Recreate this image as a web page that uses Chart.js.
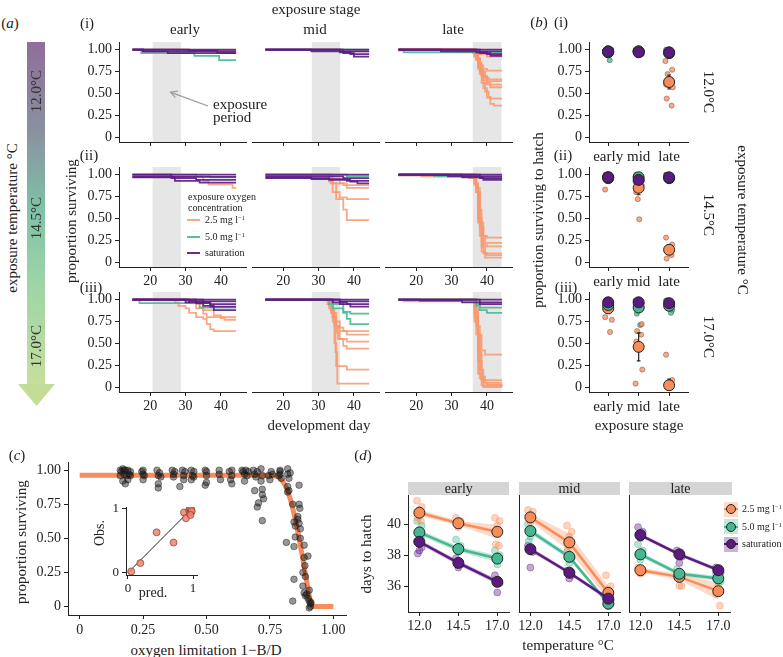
<!DOCTYPE html>
<html lang="en">
<head>
<meta charset="UTF-8">
<title>Embryo survival and hatching under low oxygen</title>
<script src="https://cdn.jsdelivr.net/npm/chart.js"></script>
<style>
  * { margin: 0; padding: 0; box-sizing: border-box; }
  body { width: 783px; height: 657px; position: relative; overflow: hidden; background: #fff;
         font-family: 'Liberation Serif', 'Times New Roman', serif; color: #222; }
  .box { position: absolute; }
  .box canvas { display: block; }
  .t { position: absolute; white-space: nowrap; line-height: 1; }
  .strip { position: absolute; background: #d5d5d5; font-size: 14px; text-align: center; line-height: 14px; }
  .bar { position: absolute; left: 27px; top: 42px; width: 18px; height: 343px;
         background: linear-gradient(#8f6e9b 0%, #8a8fa0 25%, #7fc0a6 48%, #9ad3a8 68%, #c6df9c 100%); }
  .head { position: absolute; left: 18px; top: 384px; width: 37px; height: 22px; background: #c3dd96;
          clip-path: polygon(0 0, 100% 0, 50% 100%); }
  .key { position: absolute; }
  sup { font-size: 0.65em; vertical-align: 0.45em; line-height: 0; }
</style>
</head>
<body>
<div class="bar"></div>
<div class="head"></div>

<script>
  const FONT = 'Liberation Serif';
  const INK = '#222';

  // ---- tick labels ----
  const stages = ['early', 'mid', 'late'];
  const propTicks = [0, 0.25, 0.5, 0.75, 1];
  const propLabels = ['0', '0.25', '0.50', '0.75', '1.00'];
  const dayTicks = [20, 30, 40];
  const dayLabels = ['20', '30', '40'];
  const tempTicks = [12, 14.5, 17];
  const tempLabels = ['12.0', '14.5', '17.0'];
  const hatchTicks = [36, 38, 40];
  const hatchLabels = ['36', '38', '40'];

  // exposure windows (development day) for early / mid / late
  const exposureDays = [[20.7, 28.7], [28.1, 36.1], [36.0, 44.1]];

  // ---- (a) survival curves: each line is day, proportion, day, proportion ... ----
  // per temperature: [early lines, mid lines, late lines]
  const p12 = [
    [[15,1, 44.3,1], [15,1, 18,0.98, 44.3,0.98], [15,1, 18,0.98, 25,0.96, 44.3,0.96], [15,1, 31,0.99, 39,0.96, 44.3,0.96]],
    [[15,1, 44.3,1], [15,1, 28,0.98, 44.3,0.98], [15,1, 36,0.97, 39,0.95, 44.3,0.95], [15,1, 37,0.96, 40,0.92, 44.3,0.92]],
    [[15,1, 44.3,1], [15,1, 27,0.98, 44.3,0.98], [15,1, 37,0.97, 40,0.95, 44.3,0.95], [15,1, 38,0.96, 41,0.93, 44.3,0.93]]
  ];
  const g12 = [
    [[15,1, 17.5,0.96, 32.5,0.93, 39.5,0.88, 44.3,0.88]],
    [[15,1, 44.3,1]],
    [[15,1, 16.5,0.97, 37,0.96, 44.3,0.96]]
  ];
  const o12 = [
    [[15,1, 30,0.99, 44.3,0.99]],
    [[15,1, 36,0.98, 44.3,0.98]],
    [
      [15,1, 30.5,0.98, 37,0.95, 40,0.92, 44.3,0.92],
      [15,1, 36,0.97, 37,0.9, 38,0.82, 39,0.78, 40,0.76, 44.3,0.76],
      [15,1, 36.5,0.95, 37.5,0.85, 38.5,0.75, 39.5,0.68, 40.5,0.66, 44.3,0.66],
      [15,1, 36,0.96, 37,0.88, 38,0.76, 39,0.68, 40,0.64, 44.3,0.64],
      [15,0.99, 36.5,0.93, 37.5,0.8, 38.5,0.7, 40,0.62, 41,0.6, 44.3,0.6],
      [15,1, 37,0.9, 38,0.75, 39,0.65, 40,0.6, 41,0.57, 44.3,0.57],
      [15,1, 36.5,0.92, 37.5,0.78, 38.5,0.62, 39.5,0.52, 40.5,0.46, 41,0.44, 44.3,0.44],
      [15,1, 37,0.9, 38,0.72, 39,0.56, 40,0.45, 41,0.38, 42,0.36, 44.3,0.36]
    ]
  ];
  const p145 = [
    [[15,1, 44.3,1], [15,0.975, 44.3,0.975], [15,1, 26,0.96, 33,0.94, 44.3,0.94], [15,0.97, 27,0.93, 34,0.91, 44.3,0.91]],
    [[15,1, 44.3,1], [15,0.98, 37,0.96, 44.3,0.96], [15,0.97, 28,0.95, 38,0.93, 44.3,0.93], [15,0.96, 33,0.94, 39,0.92, 41,0.9, 44.3,0.9]],
    [[15,1, 44.3,1], [15,1, 29,0.98, 44.3,0.98], [15,1, 38,0.96, 44.3,0.96], [15,1, 33,0.97, 39,0.94, 44.3,0.94]]
  ];
  const g145 = [
    [[15,1, 33,0.98, 37,0.97, 44.3,0.97]],
    [[15,1, 38,0.98, 44.3,0.98]],
    [[15,1, 25,0.98, 38,0.96, 44.3,0.96]]
  ];
  const o145 = [
    [[15,0.98, 35,0.93, 36.5,0.89, 43.3,0.85, 44.3,0.85]],
    [
      [15,1, 33,0.95, 34,0.9, 37,0.88, 44.3,0.88],
      [15,1, 34,0.95, 36,0.9, 38,0.85, 44.3,0.85],
      [15,1, 33,0.92, 34,0.8, 36,0.74, 38,0.72, 44.3,0.72],
      [15,1, 33.5,0.9, 35,0.72, 37,0.6, 38,0.48, 44.3,0.48]
    ],
    [
      [15,1, 21.5,0.98, 35,0.96, 37,0.8, 38,0.45, 39,0.3, 40,0.28, 44.3,0.28],
      [15,1, 36.5,0.9, 37.5,0.6, 38.5,0.3, 39.5,0.22, 44.3,0.22],
      [15,0.99, 37,0.85, 38,0.4, 39,0.2, 40,0.18, 44.3,0.18],
      [15,1, 36.5,0.88, 37.5,0.5, 38.5,0.18, 39.5,0.1, 44.3,0.1],
      [15,1, 37,0.8, 38,0.3, 39,0.1, 40,0.08, 44.3,0.08],
      [15,1, 36.5,0.9, 37.5,0.45, 38.5,0.12, 39.5,0.05, 44.3,0.05]
    ]
  ];
  const p170 = [
    [[15,1, 44.3,1], [15,1, 31,0.98, 44.3,0.98], [15,1, 33,0.96, 37,0.95, 44.3,0.95], [15,1, 30,0.97, 37,0.92, 44.3,0.92], [15,1, 35,0.93, 38,0.88, 44.3,0.88]],
    [[15,1, 44.3,1], [15,1, 36,0.98, 44.3,0.98], [15,1, 34,0.97, 38,0.95, 44.3,0.95], [15,1, 36,0.95, 39,0.92, 44.3,0.92]],
    [[15,1, 44.3,1], [15,1, 21,0.99, 33,0.97, 44.3,0.97], [15,1, 38,0.95, 44.3,0.95]]
  ];
  const g170 = [
    [[15,1, 17,0.96, 34,0.91, 44.3,0.91]],
    [[15,1, 33,0.95, 34,0.9, 37,0.86, 39,0.84, 44.3,0.84], [15,1, 34,0.95, 37,0.85, 38,0.78, 39,0.72, 44.3,0.72]],
    [[15,1, 37,0.95, 38,0.91, 44.3,0.91], [15,1, 37,0.93, 38,0.88, 40,0.85, 44.3,0.85]]
  ];
  const o170 = [
    [
      [15,1, 27,0.97, 28,0.93, 30,0.9, 31,0.85, 33,0.8, 35,0.78, 36,0.72, 37,0.66, 38,0.64, 44.3,0.64],
      [15,1, 31,0.96, 33,0.9, 35,0.84, 36,0.8, 44.3,0.8],
      [15,1, 33,0.95, 35,0.88, 38,0.82, 40,0.79, 41,0.77, 44.3,0.77]
    ],
    [
      [15,1, 32.5,0.95, 34,0.85, 35,0.75, 36,0.68, 37,0.64, 44.3,0.64],
      [15,1, 33,0.93, 34,0.8, 35,0.7, 36,0.64, 38,0.6, 44.3,0.6],
      [15,1, 33,0.9, 34,0.75, 35,0.62, 36,0.55, 38,0.52, 44.3,0.52],
      [15,1, 33.5,0.88, 34.5,0.7, 35.5,0.55, 37,0.47, 38,0.44, 44.3,0.44],
      [15,1, 33.5,0.85, 34.5,0.5, 35,0.24, 38,0.2, 44.3,0.2],
      [15,1, 34,0.8, 34.8,0.4, 35.3,0.04, 44.3,0.04]
    ],
    [
      [15,1, 16.5,0.98, 36.5,0.9, 37.5,0.6, 38.5,0.42, 39.5,0.37, 44.3,0.37],
      [15,1, 36.5,0.85, 37.5,0.4, 38.5,0.12, 39.5,0.08, 44.3,0.08],
      [15,1, 36.5,0.8, 37.5,0.3, 38.5,0.08, 39.5,0.05, 44.3,0.05],
      [15,1, 37,0.7, 38,0.2, 39,0.05, 40,0.03, 44.3,0.03],
      [15,1, 36.5,0.75, 37.5,0.15, 38.5,0.02, 44.3,0.01],
      [15,1, 37,0.6, 38,0.1, 39,0.0, 44.3,0.0]
    ]
  ];

  // ---- (b) proportion surviving to hatch; rows = 12.0, 14.5, 17.0 °C, x = stage (1..3) ----
  const bMeanO = [[0.98, 0.98, 0.63], [0.96, 0.85, 0.14], [0.90, 0.46, 0.02]];
  const bErrO  = [[0.02, 0.02, 0.08], [0.03, 0.08, 0.05], [0.05, 0.16, 0.07]];
  const bMeanG = [[0.97, 0.98, 0.96], [0.97, 0.97, 0.96], [0.94, 0.91, 0.93]];
  const bErrG  = [[0.02, 0.01, 0.02], [0.02, 0.02, 0.02], [0.03, 0.05, 0.03]];
  const bMeanP = [[0.98, 0.97, 0.97], [0.97, 0.94, 0.97], [0.97, 0.97, 0.96]];
  const bRawO = [
    [[0.9,0.99],[1.1,0.98],[1.0,1.0],[0.95,0.97],[1.9,1.0],[2.1,0.98],[2.0,0.97],[2.88,0.87],[3.1,0.77],[2.95,0.72],[3.05,0.66],[2.9,0.6],[3.12,0.57],[2.92,0.44],[3.08,0.36]],
    [[0.92,0.98],[1.08,0.96],[0.9,0.83],[1.9,0.92],[2.1,0.88],[1.92,0.8],[1.97,0.72],[2.02,0.49],[2.9,0.28],[3.1,0.2],[3.0,0.17],[2.95,0.12],[3.08,0.08],[2.92,0.04]],
    [[0.93,0.95],[1.08,0.92],[0.9,0.8],[1.12,0.77],[1.06,0.63],[2.1,0.72],[1.95,0.64],[2.08,0.6],[1.92,0.52],[2.12,0.2],[1.9,0.04],[2.9,0.37],[3.1,0.08],[3.02,0.05],[2.95,0.0],[3.06,0.02]]
  ];
  const bRawG = [
    [[0.92,1.0],[1.08,0.97],[1.05,0.88],[0.98,0.99],[1.9,0.99],[2.1,0.98],[2.03,1.0],[2.9,1.0],[3.1,0.97],[3.02,0.93],[2.96,0.99]],
    [[0.9,0.99],[1.1,0.97],[1.0,0.94],[1.92,1.0],[2.08,0.97],[2.0,0.95],[2.92,0.99],[3.1,0.96],[3.03,0.93]],
    [[0.92,0.98],[1.08,0.93],[1.0,0.9],[1.9,0.95],[2.1,0.91],[1.94,0.84],[2.05,0.71],[2.9,0.99],[3.1,0.88],[3.06,0.85],[2.97,0.94]]
  ];
  const bRawP = [
    [[0.9,0.98],[1.1,1.0],[1.03,0.96],[1.92,0.99],[2.1,0.95],[2.0,1.0],[2.92,0.99],[3.08,0.96],[3.0,1.0]],
    [[0.92,1.0],[1.08,0.96],[1.0,0.98],[1.9,0.98],[2.1,0.93],[2.0,0.9],[2.9,1.0],[3.08,0.97],[3.0,0.95]],
    [[0.92,0.99],[1.08,0.96],[1.0,1.0],[1.9,0.99],[2.1,0.96],[2.0,1.0],[2.92,0.99],[3.08,0.95],[3.0,0.98]]
  ];

  // ---- (c) survival vs oxygen limitation ----
  const cPts = [
    [0.160,1.00],[0.165,0.99],[0.170,1.01],[0.175,0.97],[0.180,1.00],[0.185,0.96],[0.190,1.00],[0.200,0.99],[0.170,0.92],[0.180,0.90],[0.190,0.93],[0.200,0.96],[0.160,0.96],[0.175,1.00],[0.195,0.97],
    [0.245,0.99],[0.250,1.00],[0.250,0.97],[0.250,0.93],[0.255,0.96],
    [0.305,1.00],[0.310,0.96],[0.310,0.90],[0.310,0.87],[0.315,0.98],[0.320,0.95],
    [0.365,1.00],[0.370,0.97],[0.370,0.95],[0.375,0.99],
    [0.395,0.88],[0.405,1.00],[0.410,0.96],[0.410,0.93],[0.415,0.99],
    [0.440,1.00],[0.445,0.96],[0.450,0.99],[0.440,0.93],[0.450,0.95],
    [0.495,1.00],[0.500,0.99],[0.500,0.96],[0.500,0.91],[0.495,0.89],
    [0.550,1.00],[0.550,0.97],[0.555,0.93],
    [0.590,0.99],[0.600,1.00],[0.600,0.96],[0.595,0.93],[0.600,0.90],
    [0.640,1.00],[0.645,0.99],[0.650,0.97],[0.655,1.00],[0.660,0.96],[0.650,0.92],[0.665,0.99],
    [0.685,1.00],[0.690,0.97],[0.690,0.85],[0.695,0.95],[0.700,0.73],[0.700,0.99],[0.705,0.76],
    [0.715,1.01],[0.720,0.96],[0.720,0.82],[0.725,0.79],[0.720,0.63],[0.715,0.92],[0.720,0.86],
    [0.745,0.96],[0.750,0.93],[0.760,0.97],[0.755,0.99],
    [0.785,0.96],[0.790,1.00],[0.790,0.99],[0.790,0.97],[0.795,0.94],
    [0.815,0.47],[0.820,1.01],[0.820,0.97],[0.825,0.94],[0.820,0.84],[0.825,0.85],[0.820,0.88],[0.830,0.98],
    [0.840,0.75],[0.845,0.62],[0.850,0.51],[0.845,0.20],[0.840,0.04],[0.850,0.59],[0.845,0.44],
    [0.860,0.64],[0.865,0.89],[0.865,0.75],[0.865,0.61],[0.870,0.57],[0.860,0.66],[0.870,0.50],[0.868,0.72],
    [0.880,0.25],[0.885,0.45],[0.885,0.36],[0.890,0.22],[0.885,0.10],[0.890,0.08],[0.880,0.15],[0.888,0.30],
    [0.900,0.37],[0.905,0.12],[0.905,0.04],[0.910,0.02],[0.900,0.06],[0.910,0.00],[0.905,-0.01],[0.912,0.03],[0.895,0.09]
  ];
  const cCurve = [[0,0.963],[0.74,0.963],[0.77,0.958],[0.79,0.94],[0.81,0.89],[0.83,0.79],[0.85,0.64],[0.87,0.45],[0.89,0.24],[0.905,0.08],[0.915,0.015],[0.925,0],[1.0,0]];
  const insetPts = [[0.05,0.02],[0.19,0.15],[0.44,0.63],[0.70,0.47],[0.86,0.94],[0.89,0.85],[0.94,0.97],[0.95,1.0],[0.96,0.94],[0.97,0.99],[0.98,0.96],[0.96,0.90]];
  const insetFit = [[0,0],[0.98,1]];

  // ---- (d) days to hatch; facets = early, mid, late; x = temperature ----
  const dTemps = [12, 14.5, 17];
  const dMeanO = [[40.73, 40.05, 39.50], [40.43, 38.82, 35.57], [37.03, 36.60, 35.68]];
  const dCiO   = [[0.20, 0.15, 0.45], [0.25, 0.55, 0.45], [0.15, 0.20, 0.55]];
  const dMeanG = [[39.46, 38.39, 37.78], [39.55, 37.89, 34.88], [38.05, 36.80, 36.50]];
  const dCiG   = [[0.18, 0.18, 0.22], [0.20, 0.15, 0.15], [0.15, 0.15, 0.15]];
  const dMeanP = [[38.86, 37.50, 36.28], [38.38, 36.87, 35.20], [39.29, 38.05, 37.03]];
  const dCiP   = [[0.15, 0.15, 0.15], [0.15, 0.12, 0.12], [0.12, 0.12, 0.12]];
  const dRawO = [
    [[11.85,41.5],[12.15,41.1],[12.0,40.9],[11.9,40.4],[12.1,40.2],[14.35,40.4],[14.65,40.2],[14.5,39.8],[16.85,40.4],[17.15,40.2],[17.0,39.9],[16.9,38.7],[17.1,38.6]],
    [[11.85,40.9],[12.15,40.8],[12.0,40.1],[14.35,39.9],[14.65,39.5],[14.5,39.2],[14.4,38.4],[16.85,36.7],[17.15,36.0],[17.0,35.8]],
    [[11.85,37.2],[12.15,36.9],[12.0,36.8],[14.35,36.9],[14.65,36.0],[14.5,36.05],[17.0,36.0],[16.85,35.5],[17.1,34.75]]
  ];
  const dRawG = [
    [[11.85,40.2],[12.15,39.9],[12.0,39.6],[12.1,39.2],[14.35,39.0],[14.65,38.6],[14.5,38.2],[16.85,38.3],[17.15,38.0],[17.0,37.4]],
    [[11.85,40.0],[12.15,39.6],[12.0,39.2],[11.9,38.9],[14.35,38.2],[14.65,37.8],[14.5,37.5],[16.85,35.2],[17.15,34.9],[17.0,34.7]],
    [[11.85,38.7],[12.15,38.3],[12.0,37.7],[14.35,37.1],[14.65,36.7],[16.85,36.8],[17.15,36.3]]
  ];
  const dRawP = [
    [[11.85,38.9],[12.15,38.5],[12.0,38.3],[11.9,38.1],[14.35,37.8],[14.65,37.4],[14.5,37.2],[16.85,36.7],[17.15,36.2],[17.0,35.6]],
    [[11.85,38.6],[12.15,38.2],[12.0,37.2],[14.35,37.0],[14.65,36.7],[14.5,36.5],[16.85,35.3],[17.15,35.1]],
    [[11.85,39.8],[12.15,39.5],[12.0,39.1],[14.35,38.3],[14.65,37.9],[14.5,37.5],[16.85,37.2],[17.15,36.9]]
  ];

  // ---- colours ----
  const COL_O = '#f88d58', COL_G = '#45b791', COL_P = '#5a1a80';
  const LINE_O = 'rgba(249,152,110,0.85)', LINE_G = 'rgba(80,188,150,0.95)', LINE_P = 'rgba(92,28,132,0.92)';
  const BAND_O = 'rgba(248,141,88,0.32)', BAND_G = 'rgba(69,183,145,0.32)', BAND_P = 'rgba(90,26,128,0.32)';
  const RAW_O = 'rgba(248,141,88,0.75)', RAW_G = 'rgba(69,183,145,0.75)', RAW_P = 'rgba(90,26,128,0.75)';
  const FAINT_O = 'rgba(248,141,88,0.38)', FAINT_G = 'rgba(69,183,145,0.38)', FAINT_P = 'rgba(90,26,128,0.38)';

  // ---- helpers ----
  const pts = a => a.map(([x, y]) => ({ x, y }));
  const flatPts = f => {
    const out = [];
    for (let i = 0; i < f.length; i += 2) out.push({ x: f[i], y: f[i + 1] });
    return out;
  };

  function txt(html, x, y, size, opt = {}) {
    const d = document.createElement('div');
    d.className = 't';
    d.innerHTML = html;
    d.style.left = x + 'px';
    d.style.top = y + 'px';
    d.style.fontSize = size + 'px';
    let tf = opt.left ? 'translate(0,-50%)' : 'translate(-50%,-50%)';
    if (opt.rot) tf += ' rotate(' + opt.rot + 'deg)';
    d.style.transform = tf;
    if (opt.color) d.style.color = opt.color;
    document.body.appendChild(d);
  }

  function axisCfg({ min, max, ticks = [], labels = null, size, fs = 14, show = true, marks = true, pad = 3 }) {
    return {
      type: 'linear', min, max, display: show,
      afterBuildTicks: s => { s.ticks = ticks.map(v => ({ value: v })); },
      afterFit: s => { if (s.isHorizontal()) s.height = size; else s.width = size; },
      ticks: {
        display: marks, autoSkip: false, maxRotation: 0, padding: pad, color: INK,
        font: { family: FONT, size: fs },
        callback: (v, i) => labels ? labels[i] : ''
      },
      grid: { drawOnChartArea: false, drawTicks: marks, tickLength: 4, color: INK, lineWidth: 1 },
      border: { display: true, color: INK, width: 1 }
    };
  }

  // area = plotting box on the page, pad = room around it for axes
  function mount(area, pad, yShown, type, datasets, x, y, plugins = []) {
    const div = document.createElement('div');
    div.className = 'box';
    div.style.left = (area.x - pad.l) + 'px';
    div.style.top = (area.y - pad.t) + 'px';
    const cv = document.createElement('canvas');
    cv.width = Math.round(area.w + pad.l + pad.r);
    cv.height = Math.round(area.h + pad.t + pad.b);
    div.appendChild(cv);
    document.body.appendChild(div);
    return new Chart(cv, {
      type,
      data: { datasets },
      options: {
        responsive: false, animation: false, devicePixelRatio: 1, events: [],
        layout: { padding: { left: yShown ? 0 : pad.l, top: pad.t, right: pad.r, bottom: 0 } },
        plugins: { legend: { display: false }, tooltip: { enabled: false } },
        scales: { x, y }
      },
      plugins
    });
  }

  // grey exposure window behind the curves
  function shade(period) {
    return {
      id: 'shade',
      beforeDraw(chart) {
        const { ctx, chartArea: a, scales: { x } } = chart;
        const x0 = x.getPixelForValue(period[0]), x1 = x.getPixelForValue(period[1]);
        ctx.save();
        ctx.fillStyle = '#e6e6e6';
        ctx.fillRect(x0, a.top, x1 - x0, a.bottom - a.top);
        ctx.restore();
      }
    };
  }

  function errData(means, errs) {
    const out = [];
    means.forEach((m, i) => {
      const x = i + 1, lo = Math.max(m - errs[i], 0), hi = m + errs[i];
      out.push({ x, y: lo }, { x, y: hi }, { x, y: null },
               { x: x - 0.06, y: lo }, { x: x + 0.06, y: lo }, { x, y: null },
               { x: x - 0.06, y: hi }, { x: x + 0.06, y: hi }, { x, y: null });
    });
    return out;
  }

  // ---- (a) survival curves ----
  const survRows = [[p12, g12, o12], [p145, g145, o145], [p170, g170, o170]];
  const aTop = [42, 167, 292];
  const aLeft = [118.5, 252, 385];
  survRows.forEach(([p, g, o], r) => {
    for (let c = 0; c < 3; c++) {
      const yShown = c === 0;
      const sets = [];
      [[p[c], LINE_P], [g[c], LINE_G], [o[c], LINE_O]].forEach(([lines, col]) =>
        lines.forEach(f => sets.push({
          data: flatPts(f), borderColor: col, borderWidth: 1.8, pointRadius: 0, stepped: true, fill: false
        })));
      mount({ x: aLeft[c], y: aTop[r], w: 126.5, h: 100 }, { l: yShown ? 44 : 10, t: 14, r: 14, b: 24 }, yShown, 'line', sets,
        axisCfg({ min: 11.2, max: 47.1, ticks: dayTicks, labels: r === 0 ? null : dayLabels, size: 24, pad: 2 }),
        axisCfg({ min: -0.057, max: 1.088, ticks: propTicks, labels: propLabels, size: yShown ? 44 : 0, show: yShown }),
        [shade(exposureDays[c])]);
    }
  });

  // ---- (b) survival to hatch ----
  for (let r = 0; r < 3; r++) {
    const sets = [];
    [[bRawO, RAW_O], [bRawG, RAW_G], [bRawP, RAW_P]].forEach(([raw, col]) => sets.push({
      type: 'scatter', data: pts(raw[r]), backgroundColor: col, borderColor: 'rgba(70,45,45,0.55)',
      borderWidth: 0.7, pointRadius: 2.6, order: 5
    }));
    [[bMeanO, bErrO], [bMeanG, bErrG]].forEach(([m, e]) => sets.push({
      type: 'line', data: errData(m[r], e[r]), borderColor: INK, borderWidth: 1.2, pointRadius: 0, spanGaps: false, order: 4
    }));
    [[bMeanO, COL_O, 3], [bMeanG, COL_G, 2], [bMeanP, COL_P, 1]].forEach(([m, col, ord]) => sets.push({
      type: 'scatter', data: m[r].map((v, i) => ({ x: i + 1, y: v })), backgroundColor: col,
      borderColor: INK, borderWidth: 1, pointRadius: 5.5, order: ord
    }));
    mount({ x: 589, y: aTop[r], w: 99, h: 100 }, { l: 48, t: 14, r: 14, b: 24 }, true, 'scatter', sets,
      axisCfg({ min: 0.37, max: 3.62, ticks: [1, 2, 3], labels: stages, size: 24, fs: 15, pad: 2 }),
      axisCfg({ min: -0.057, max: 1.088, ticks: propTicks, labels: propLabels, size: 48 }));
  }

  // ---- (c) survival vs oxygen limitation ----
  mount({ x: 68, y: 461.5, w: 278, h: 153 }, { l: 50, t: 14, r: 20, b: 26 }, true, 'line', [
    { type: 'scatter', data: pts(cPts), backgroundColor: 'rgba(25,25,25,0.45)', borderColor: 'rgba(25,25,25,0.45)',
      pointRadius: 3.3, order: 1 },
    { data: pts(cCurve), borderColor: 'rgba(247,128,78,0.9)', borderWidth: 5, pointRadius: 0,
      cubicInterpolationMode: 'monotone', order: 2 }
  ],
    axisCfg({ min: -0.046, max: 1.05, ticks: propTicks, labels: propLabels, size: 26 }),
    axisCfg({ min: -0.062, max: 1.06, ticks: propTicks, labels: propLabels, size: 50 }));

  // inset: observed vs predicted
  mount({ x: 125.5, y: 506.5, w: 71, h: 67.5 }, { l: 16, t: 14, r: 10, b: 20 }, true, 'line', [
    { type: 'scatter', data: pts(insetPts), backgroundColor: 'rgba(240,130,112,0.85)', borderColor: 'rgba(120,50,40,0.8)',
      borderWidth: 0.8, pointRadius: 3.5, order: 1 },
    { data: pts(insetFit), borderColor: INK, borderWidth: 1, pointRadius: 0, order: 2 }
  ],
    axisCfg({ min: -0.03, max: 1.06, ticks: [0, 1], labels: ['0', '1'], size: 20, fs: 13, pad: 2 }),
    axisCfg({ min: -0.036, max: 1.025, ticks: [0, 1], labels: ['0', '1'], size: 16, fs: 13 }));

  // ---- (d) days to hatch ----
  const dLeft = [408.3, 518.7, 629.3];
  for (let f = 0; f < 3; f++) {
    const sets = [];
    [[dRawO, FAINT_O], [dRawG, FAINT_G], [dRawP, FAINT_P]].forEach(([raw, col]) => sets.push({
      type: 'scatter', data: pts(raw[f]), backgroundColor: col, borderColor: col, pointRadius: 3.5, order: 10
    }));
    [[dMeanO, dCiO, COL_O, BAND_O, 3], [dMeanG, dCiG, COL_G, BAND_G, 2], [dMeanP, dCiP, COL_P, BAND_P, 1]].forEach(([m, ci, col, band, ord]) => {
      sets.push({ data: dTemps.map((t, i) => ({ x: t, y: m[f][i] - ci[f][i] })), borderWidth: 0,
        borderColor: 'rgba(0,0,0,0)', pointRadius: 0, fill: false, order: 6 });
      sets.push({ data: dTemps.map((t, i) => ({ x: t, y: m[f][i] + ci[f][i] })), borderWidth: 0,
        borderColor: 'rgba(0,0,0,0)', pointRadius: 0, fill: '-1', backgroundColor: band, order: 6 });
      sets.push({ data: dTemps.map((t, i) => ({ x: t, y: m[f][i] })), borderColor: col, borderWidth: 2.5,
        pointRadius: 5.5, pointBackgroundColor: col, pointBorderColor: INK, pointBorderWidth: 1, order: ord });
    });
    const first = f === 0;
    mount({ x: dLeft[f], y: 495, w: 101.4, h: 116.7 }, { l: first ? 30 : 10, t: 14, r: 8, b: 24 }, true, 'line', sets,
      axisCfg({ min: 11.27, max: 17.75, ticks: tempTicks, labels: tempLabels, size: 24, pad: 2 }),
      axisCfg({ min: 34.34, max: 41.87, ticks: hatchTicks, labels: hatchLabels, size: first ? 30 : 10, marks: first }));
  }

  // ---- text, strips, legends ----
  txt('(<i>a</i>)', 10, 23, 15);
  txt('exposure stage', 316, 9, 15);
  txt('(i)', 87, 23, 15);
  txt('(ii)', 89, 155, 15);
  txt('(iii)', 91, 287, 15);
  txt('early', 185, 29, 15);
  txt('mid', 315, 29, 15);
  txt('late', 453, 29, 15);
  txt('proportion surviving', 71, 221, 15, { rot: -90 });
  txt('development day', 319, 425, 15);
  txt('exposure', 213, 104, 15, { left: true });
  txt('period', 213, 117, 15, { left: true });
  txt('exposure temperature °C', 12, 218, 15, { rot: -90 });
  txt('12.0°C', 36, 91, 15, { rot: -90, color: '#333' });
  txt('14.5°C', 36, 218, 15, { rot: -90, color: '#333' });
  txt('17.0°C', 36, 346, 15, { rot: -90, color: '#333' });

  txt('exposure oxygen', 188, 197, 10, { left: true });
  txt('concentration', 188, 208, 10, { left: true });
  [[LINE_O, '2.5 mg l<sup>−1</sup>', 219.5], [LINE_G, '5.0 mg l<sup>−1</sup>', 236.5], [LINE_P, 'saturation', 253]].forEach(([col, label, y]) => {
    const k = document.createElement('div');
    k.className = 'key';
    Object.assign(k.style, { left: '187px', top: (y - 1) + 'px', width: '13px', height: '2px', background: col });
    document.body.appendChild(k);
    txt(label, 205, y, 10, { left: true });
  });

  txt('(<i>b</i>)', 539, 22, 15);
  txt('(i)', 561, 22, 15);
  txt('(ii)', 563, 155, 15);
  txt('(iii)', 566, 287, 15);
  txt('proportion surviving to hatch', 538, 220, 15, { rot: -90 });
  txt('exposure stage', 639, 425, 15);
  txt('12.0°C', 708, 92, 15, { rot: 90 });
  txt('14.5°C', 708, 215, 15, { rot: 90 });
  txt('17.0°C', 708, 337, 15, { rot: 90 });
  txt('exposure temperature °C', 742, 220, 15, { rot: 90 });

  txt('(<i>c</i>)', 17, 455, 15);
  txt('proportion surviving', 21, 542, 15, { rot: -90 });
  txt('oxygen limitation 1−B/D', 206, 650, 15);
  txt('Obs.', 100, 533, 14, { rot: -90 });
  txt('pred.', 153, 593, 14);

  txt('(<i>d</i>)', 363, 455, 15);
  txt('days to hatch', 366, 554, 15, { rot: -90 });
  txt('temperature °C', 568, 645, 15);
  [[408.3, 509.3], [518.7, 620], [629.3, 731.7]].forEach(([x0, x1], i) => {
    const s = document.createElement('div');
    s.className = 'strip';
    Object.assign(s.style, { left: x0 + 'px', top: '481.5px', width: (x1 - x0) + 'px', height: '13.5px' });
    s.textContent = stages[i];
    document.body.appendChild(s);
  });
  [[BAND_O, COL_O, '2.5 mg l<sup>−1</sup>', 509.3], [BAND_G, COL_G, '5.0 mg l<sup>−1</sup>', 526.7], [BAND_P, COL_P, 'saturation', 544.2]].forEach(([band, col, label, y]) => {
    const box = document.createElement('div');
    box.className = 'key';
    Object.assign(box.style, { left: '724px', top: (y - 7.5) + 'px', width: '14px', height: '15px', background: band });
    const line = document.createElement('div');
    line.className = 'key';
    Object.assign(line.style, { left: '724px', top: (y - 1) + 'px', width: '14px', height: '2px', background: col });
    const dot = document.createElement('div');
    dot.className = 'key';
    Object.assign(dot.style, { left: '726px', top: (y - 5) + 'px', width: '10px', height: '10px', borderRadius: '50%',
      background: col, border: '1px solid ' + INK });
    document.body.append(box, line, dot);
    txt(label, 742, y, 10, { left: true });
  });
</script>

<svg class="box" style="left:0;top:0" width="783" height="657">
  <line x1="208" y1="106" x2="171" y2="92.4" stroke="#9a9a9a" stroke-width="1.2"/>
  <polyline points="177.8,91.1 170.5,92.2 175.4,97.7" fill="none" stroke="#9a9a9a" stroke-width="1.2"/>
</svg>
</body>
</html>
